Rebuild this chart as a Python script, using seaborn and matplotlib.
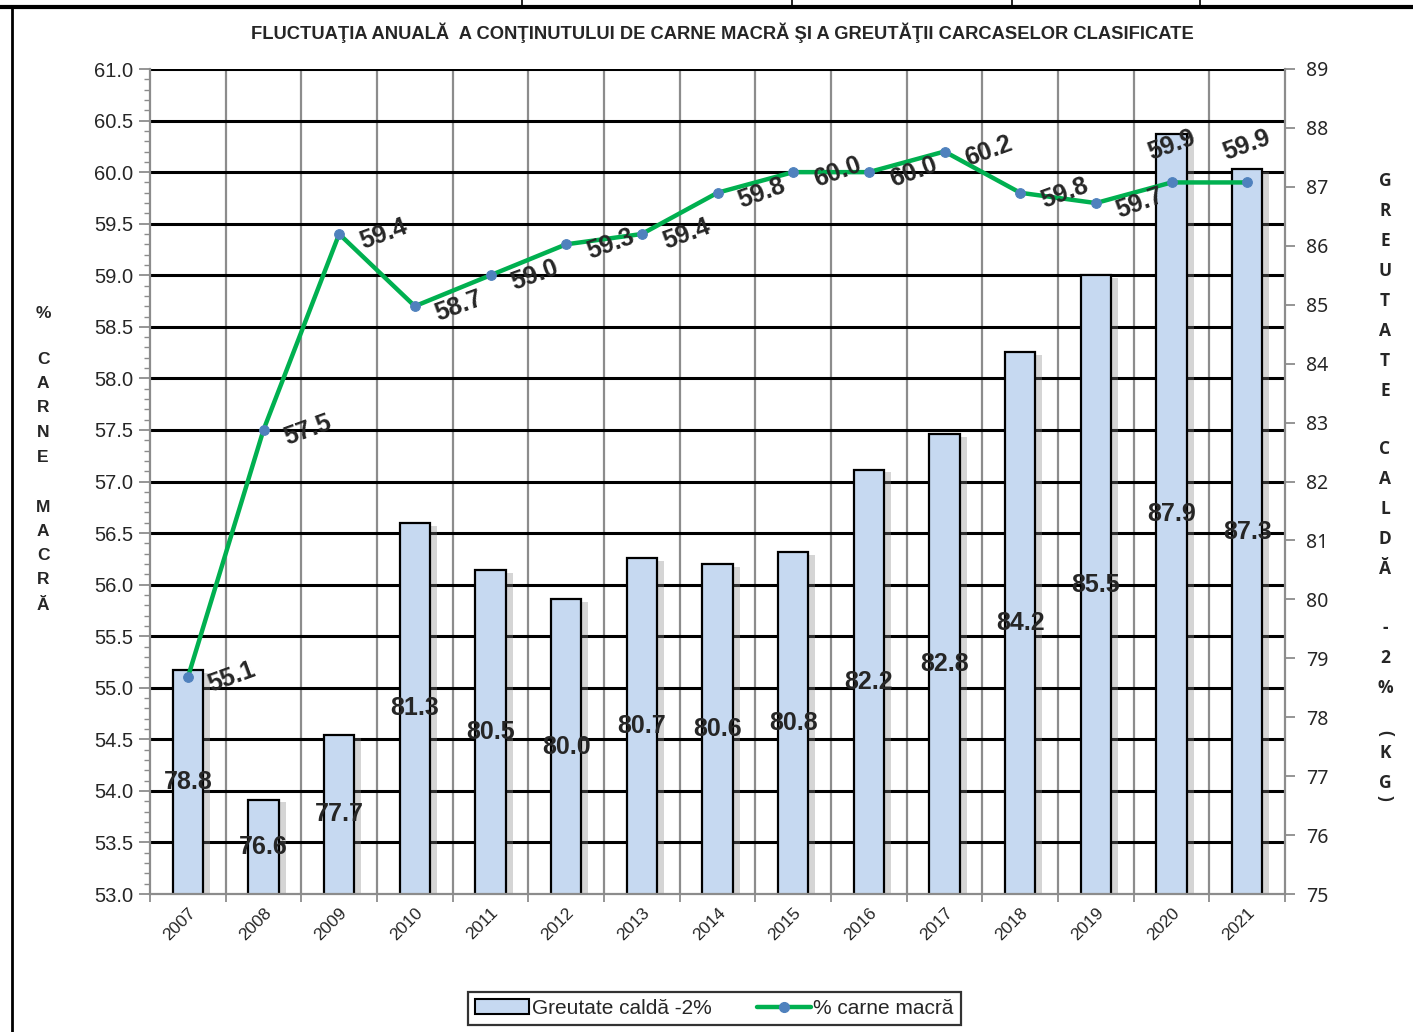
import numpy as np
import pandas as pd
import matplotlib
matplotlib.use("Agg")
import matplotlib.pyplot as plt
import matplotlib.patheffects as pe
from matplotlib.lines import Line2D
from matplotlib.patches import Patch
from matplotlib.transforms import blended_transform_factory
import seaborn as sns


# =========================
# Data
# =========================

years = [
    "2007", "2008", "2009", "2010", "2011",
    "2012", "2013", "2014", "2015", "2016",
    "2017", "2018", "2019", "2020", "2021"
]

greutate = [
    78.8, 76.6, 77.7, 81.3, 80.5,
    80.0, 80.7, 80.6, 80.8, 82.2,
    82.8, 84.2, 85.5, 87.9, 87.3
]

carne = [
    55.1, 57.5, 59.4, 58.7, 59.0,
    59.3, 59.4, 59.8, 60.0, 60.0,
    60.2, 59.8, 59.7, 59.9, 59.9
]

# labels of the last two points sit above the marker
label_above = [
    False, False, False, False, False,
    False, False, False, False, False,
    False, False, False, True, True
]

title = (
    "FLUCTUAŢIA ANUALĂ  A CONŢINUTULUI DE CARNE MACRĂ "
    "ŞI A GREUTĂŢII CARCASELOR CLASIFICATE"
)

bar_name = "Greutate caldă -2%"
line_name = "% carne macră"

BAR_COLOR = "#C6D9F1"
LINE_COLOR = "#00B050"
MARKER_COLOR = "#4F81BD"
AXIS_GRAY = "#8C8C8C"


df = pd.DataFrame(
    {
        "year": years,
        "pos": np.arange(len(years)),
        "greutate": greutate,
        "carne": carne,
    }
)


# =========================
# Figure
# =========================

sns.set_style("white")
plt.rcParams["font.family"] = ["Liberation Sans", "DejaVu Sans"]

fig = plt.figure(figsize=(14.13, 10.32), dpi=100)

ax = fig.add_axes([150 / 1413, 1 - 894 / 1032, 1135 / 1413, 825 / 1032])
ax2 = ax.twinx()
ax2.set_zorder(ax.get_zorder() + 1)
ax2.patch.set_visible(False)


# =========================
# Bars (right axis)
# =========================

sns.barplot(
    data=df,
    x="pos",
    y="greutate",
    ax=ax,
    color=BAR_COLOR,
    saturation=1,
    edgecolor="black",
    linewidth=1.6,
    width=0.4,
    zorder=2,
)

for bar in ax.patches:
    bar.set_path_effects(
        [
            pe.SimplePatchShadow(offset=(5, -2), shadow_rgbFace="#888888", alpha=0.35),
            pe.Normal(),
        ]
    )

ax.set_ylim(75, 89)
ax.set_xlim(-0.5, len(years) - 0.5)

for i, v in enumerate(greutate):
    ax.text(
        i,
        (75 + v) / 2,
        f"{v:.1f}",
        ha="center",
        va="center",
        fontsize=18,
        fontweight="bold",
        zorder=5,
    )


# =========================
# Line (left axis)
# =========================

sns.lineplot(
    data=df,
    x="pos",
    y="carne",
    ax=ax2,
    color=LINE_COLOR,
    linewidth=3.2,
    marker="o",
    markersize=7,
    markerfacecolor=MARKER_COLOR,
    markeredgecolor=MARKER_COLOR,
    zorder=4,
)

ax2.set_ylim(53, 61)

for i, v in enumerate(carne):
    if label_above[i]:
        off = (0, 27)
    else:
        off = (32, 0)
    ax2.annotate(
        f"{v:.1f}",
        (i, v),
        xytext=off,
        textcoords="offset points",
        ha="center",
        va="center",
        rotation=20,
        fontsize=18,
        fontweight="bold",
        zorder=6,
    )


# =========================
# Grid
# =========================

hgrid = blended_transform_factory(ax.transAxes, ax2.transData)

ax.hlines(
    np.arange(53.5, 61.01, 0.5),
    0,
    1,
    transform=hgrid,
    color="black",
    linewidth=2.2,
    zorder=0.5,
)

vgrid = blended_transform_factory(ax.transData, ax.transAxes)

ax.vlines(
    np.arange(0.5, len(years) - 0.5, 1),
    0,
    1,
    transform=vgrid,
    color=AXIS_GRAY,
    linewidth=1.6,
    zorder=0.4,
)


# =========================
# Axes styling
# =========================

ax.yaxis.tick_right()
ax.yaxis.set_label_position("right")
ax2.yaxis.tick_left()

for a in (ax, ax2):
    a.set_xlabel("")
    a.set_ylabel("")
    a.spines["top"].set_visible(False)

for side in ["left", "right", "bottom"]:
    ax.spines[side].set_color(AXIS_GRAY)
    ax.spines[side].set_linewidth(1.6)
    ax2.spines[side].set_visible(False)

# right ticks: greutate
ax.set_yticks(np.arange(75, 90, 1))
ax.tick_params(
    axis="y",
    which="major",
    right=True,
    left=False,
    direction="out",
    length=7,
    width=1.3,
    color=AXIS_GRAY,
    labelsize=14,
    pad=8,
)
for t in ax.get_yticklabels():
    t.set_family(["Noto Sans", "DejaVu Sans"])

# left ticks: carne
ax2.set_yticks(np.arange(53, 61.01, 0.5))
ax2.set_yticks(np.arange(53, 61.01, 0.1), minor=True)
ax2.yaxis.set_major_formatter(
    matplotlib.ticker.FormatStrFormatter("%.1f")
)
ax2.tick_params(
    axis="y",
    which="major",
    left=True,
    right=False,
    direction="out",
    length=8,
    width=1.3,
    color=AXIS_GRAY,
    labelsize=14.5,
    pad=4,
)
ax2.tick_params(
    axis="y",
    which="minor",
    left=True,
    right=False,
    direction="out",
    length=4,
    width=1.0,
    color=AXIS_GRAY,
)

# x ticks
ax.set_xticks(np.arange(len(years)))
ax.set_xticklabels(years)
ax.set_xticks(np.arange(-0.5, len(years), 1), minor=True)
ax.tick_params(
    axis="x",
    which="major",
    length=0,
    labelsize=12.5,
    pad=8,
)
ax.tick_params(
    axis="x",
    which="minor",
    bottom=True,
    direction="out",
    length=6,
    width=1.3,
    color=AXIS_GRAY,
)
for t in ax.get_xticklabels():
    t.set_rotation(45)
    t.set_ha("right")
    t.set_rotation_mode("anchor")

ax2.set_xlim(-0.5, len(years) - 0.5)


# =========================
# Title and axis labels
# =========================

fig.text(
    722 / 1413,
    1 - 33 / 1032,
    title,
    ha="center",
    va="center",
    fontsize=13.2,
    fontweight="bold",
)

left_label = ["%", "", "C", "A", "R", "N", "E", "", "M", "A", "C", "R", "Ă"]
left_y = [313, 336, 360, 384, 408, 432, 458, 483, 508, 532, 556, 580, 605]
for ch, yy in zip(left_label, left_y):
    if ch:
        fig.text(
            43 / 1413, 1 - yy / 1032, ch,
            ha="center", va="center", fontsize=12.5, fontweight="bold",
        )

right_label = [
    "G", "R", "E", "U", "T", "A", "T", "E",
    "C", "A", "L", "D", "Ă",
    "-", "2", "%",
    "(", "K", "G", ")",
]
right_y = [
    181, 211, 241, 271, 301, 331, 361, 391,
    449, 479, 509, 539, 569,
    628, 658, 688,
    733, 753, 783, 798,
]
for ch, yy in zip(right_label, right_y):
    rot = -90 if ch in "()" else 0
    fig.text(
        1385 / 1413, 1 - yy / 1032, ch,
        ha="center", va="center", fontsize=12.5, fontweight="bold",
        rotation=rot, family=["Open Sans", "DejaVu Sans"],
    )


# =========================
# Legend
# =========================

handles = [
    Patch(facecolor=BAR_COLOR, edgecolor="black", linewidth=1.5),
    Line2D(
        [0], [0],
        color=LINE_COLOR,
        linewidth=3.2,
        marker="o",
        markersize=7,
        markerfacecolor=MARKER_COLOR,
        markeredgecolor=MARKER_COLOR,
    ),
]

leg = fig.legend(
    handles,
    [bar_name, line_name],
    loc="center",
    bbox_to_anchor=(714.5 / 1413, 1 - 1008.5 / 1032),
    ncol=2,
    fontsize=15,
    frameon=True,
    fancybox=False,
    edgecolor="black",
    handlelength=2.6,
    handletextpad=0.1,
    columnspacing=2.2,
    borderpad=0.35,
    borderaxespad=0,
)
leg.get_frame().set_linewidth(1.6)


# =========================
# Page frame
# =========================

fig.add_artist(
    Line2D([0, 1], [1 - 7 / 1032] * 2, color="black", linewidth=3, transform=fig.transFigure)
)
fig.add_artist(
    Line2D([12 / 1413] * 2, [0, 1 - 7 / 1032], color="black", linewidth=2, transform=fig.transFigure)
)
for xx in [522, 792, 1012, 1200]:
    fig.add_artist(
        Line2D([xx / 1413] * 2, [1 - 7 / 1032, 1], color="black", linewidth=1.2, transform=fig.transFigure)
    )


plt.savefig("out.png", dpi=100)
